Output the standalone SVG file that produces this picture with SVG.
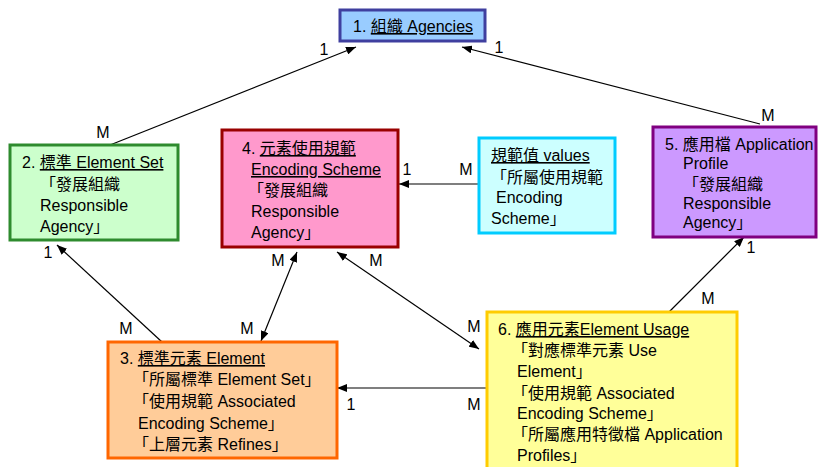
<svg xmlns="http://www.w3.org/2000/svg" width="818" height="467" viewBox="0 0 818 467">
<style>
text{font-family:"Liberation Sans","Noto Sans CJK TC",sans-serif;font-size:16px;fill:#000}
.u{text-decoration:underline}
.box{stroke-width:3}
.conn line{stroke:#000;stroke-width:1.2;fill:none}
.lbl{text-anchor:middle}
</style>
<defs>
<marker id="ah" markerUnits="userSpaceOnUse" markerWidth="10" markerHeight="8" refX="10" refY="4" orient="auto-start-reverse" viewBox="0 0 10 8">
<path d="M0,0 L10,4 L0,8 z" fill="#000"/>
</marker>
</defs>
<rect width="818" height="467" fill="#fff"/>

<g class="conn" id="connectors">
<line x1="110" y1="145" x2="356" y2="47" marker-end="url(#ah)"/>
<line x1="760" y1="124" x2="462" y2="47" marker-end="url(#ah)"/>
<line x1="479" y1="184" x2="399" y2="184" marker-end="url(#ah)"/>
<line x1="162" y1="342" x2="57" y2="245" marker-end="url(#ah)"/>
<line x1="261" y1="341" x2="297" y2="252" marker-start="url(#ah)" marker-end="url(#ah)"/>
<line x1="337" y1="252" x2="479" y2="349" marker-start="url(#ah)" marker-end="url(#ah)"/>
<line x1="488" y1="388" x2="337" y2="388" marker-end="url(#ah)"/>
<line x1="669" y1="312" x2="744" y2="237" marker-end="url(#ah)"/>
</g>

<g id="labels" class="lbl">
<text x="324" y="55" class="lbl">1</text><text x="103" y="138" class="lbl">M</text>
<text x="499" y="53" class="lbl">1</text><text x="768" y="121" class="lbl">M</text>
<text x="407" y="175" class="lbl">1</text><text x="466" y="175" class="lbl">M</text>
<text x="48" y="258" class="lbl">1</text><text x="126" y="334" class="lbl">M</text>
<text x="278" y="266" class="lbl">M</text><text x="247" y="334" class="lbl">M</text>
<text x="376" y="266" class="lbl">M</text><text x="474" y="332" class="lbl">M</text>
<text x="351" y="410" class="lbl">1</text><text x="474" y="410" class="lbl">M</text>
<text x="751" y="253" class="lbl">1</text><text x="708" y="304" class="lbl">M</text>
</g>

<g id="n1">
<rect class="box" x="340" y="10" width="145" height="31" fill="#99ccff" stroke="#3f3f9f"/>
<text x="353" y="32">1. <tspan class="u">組織 Agencies</tspan></text>
</g>

<g id="n2">
<rect class="box" x="10" y="145" width="168" height="95" fill="#ccffcc" stroke="#2e8b2e"/>
<text x="22" y="168">2. <tspan class="u">標準 Element Set</tspan></text>
<text x="40" y="190">「發展組織</text>
<text x="40" y="211">Responsible</text>
<text x="40" y="232">Agency」</text>
</g>

<g id="n4">
<rect class="box" x="222" y="130" width="176" height="117" fill="#ff99cc" stroke="#990000"/>
<text x="242" y="154">4. <tspan class="u">元素使用規範</tspan></text>
<text x="251" y="175" class="u">Encoding Scheme</text>
<text x="248" y="196">「發展組織</text>
<text x="251" y="217">Responsible</text>
<text x="251" y="238">Agency」</text>
</g>

<g id="nv">
<rect class="box" x="479" y="138" width="136" height="95" fill="#ccffff" stroke="#00ccff"/>
<text x="491" y="161" class="u">規範值 values</text>
<text x="491" y="183">「所屬使用規範</text>
<text x="496" y="203">Encoding</text>
<text x="491" y="224">Scheme」</text>
</g>

<g id="n5">
<rect class="box" x="653" y="127" width="163" height="110" fill="#cc99ff" stroke="#800080"/>
<text x="665" y="150">5. 應用檔 Application</text>
<text x="683" y="169">Profile</text>
<text x="683" y="190">「發展組織</text>
<text x="683" y="209">Responsible</text>
<text x="683" y="228">Agency」</text>
</g>

<g id="n3">
<rect class="box" x="108" y="342" width="229" height="116" fill="#ffcc99" stroke="#ff6600"/>
<text x="120" y="364">3. <tspan class="u">標準元素 Element</tspan></text>
<text x="133" y="385">「所屬標準 Element Set」</text>
<text x="133" y="407">「使用規範 Associated</text>
<text x="138" y="429">Encoding Scheme」</text>
<text x="133" y="450">「上層元素 Refines」</text>
</g>

<g id="n6">
<rect class="box" x="487" y="312" width="250" height="165" fill="#ffff99" stroke="#ffcc00"/>
<text x="498" y="335">6. <tspan class="u">應用元素Element Usage</tspan></text>
<text x="512" y="356">「對應標準元素 Use</text>
<text x="517" y="377">Element」</text>
<text x="512" y="399">「使用規範 Associated</text>
<text x="517" y="419">Encoding Scheme」</text>
<text x="512" y="440">「所屬應用特徵檔 Application</text>
<text x="517" y="461">Profiles」</text>
</g>
</svg>
